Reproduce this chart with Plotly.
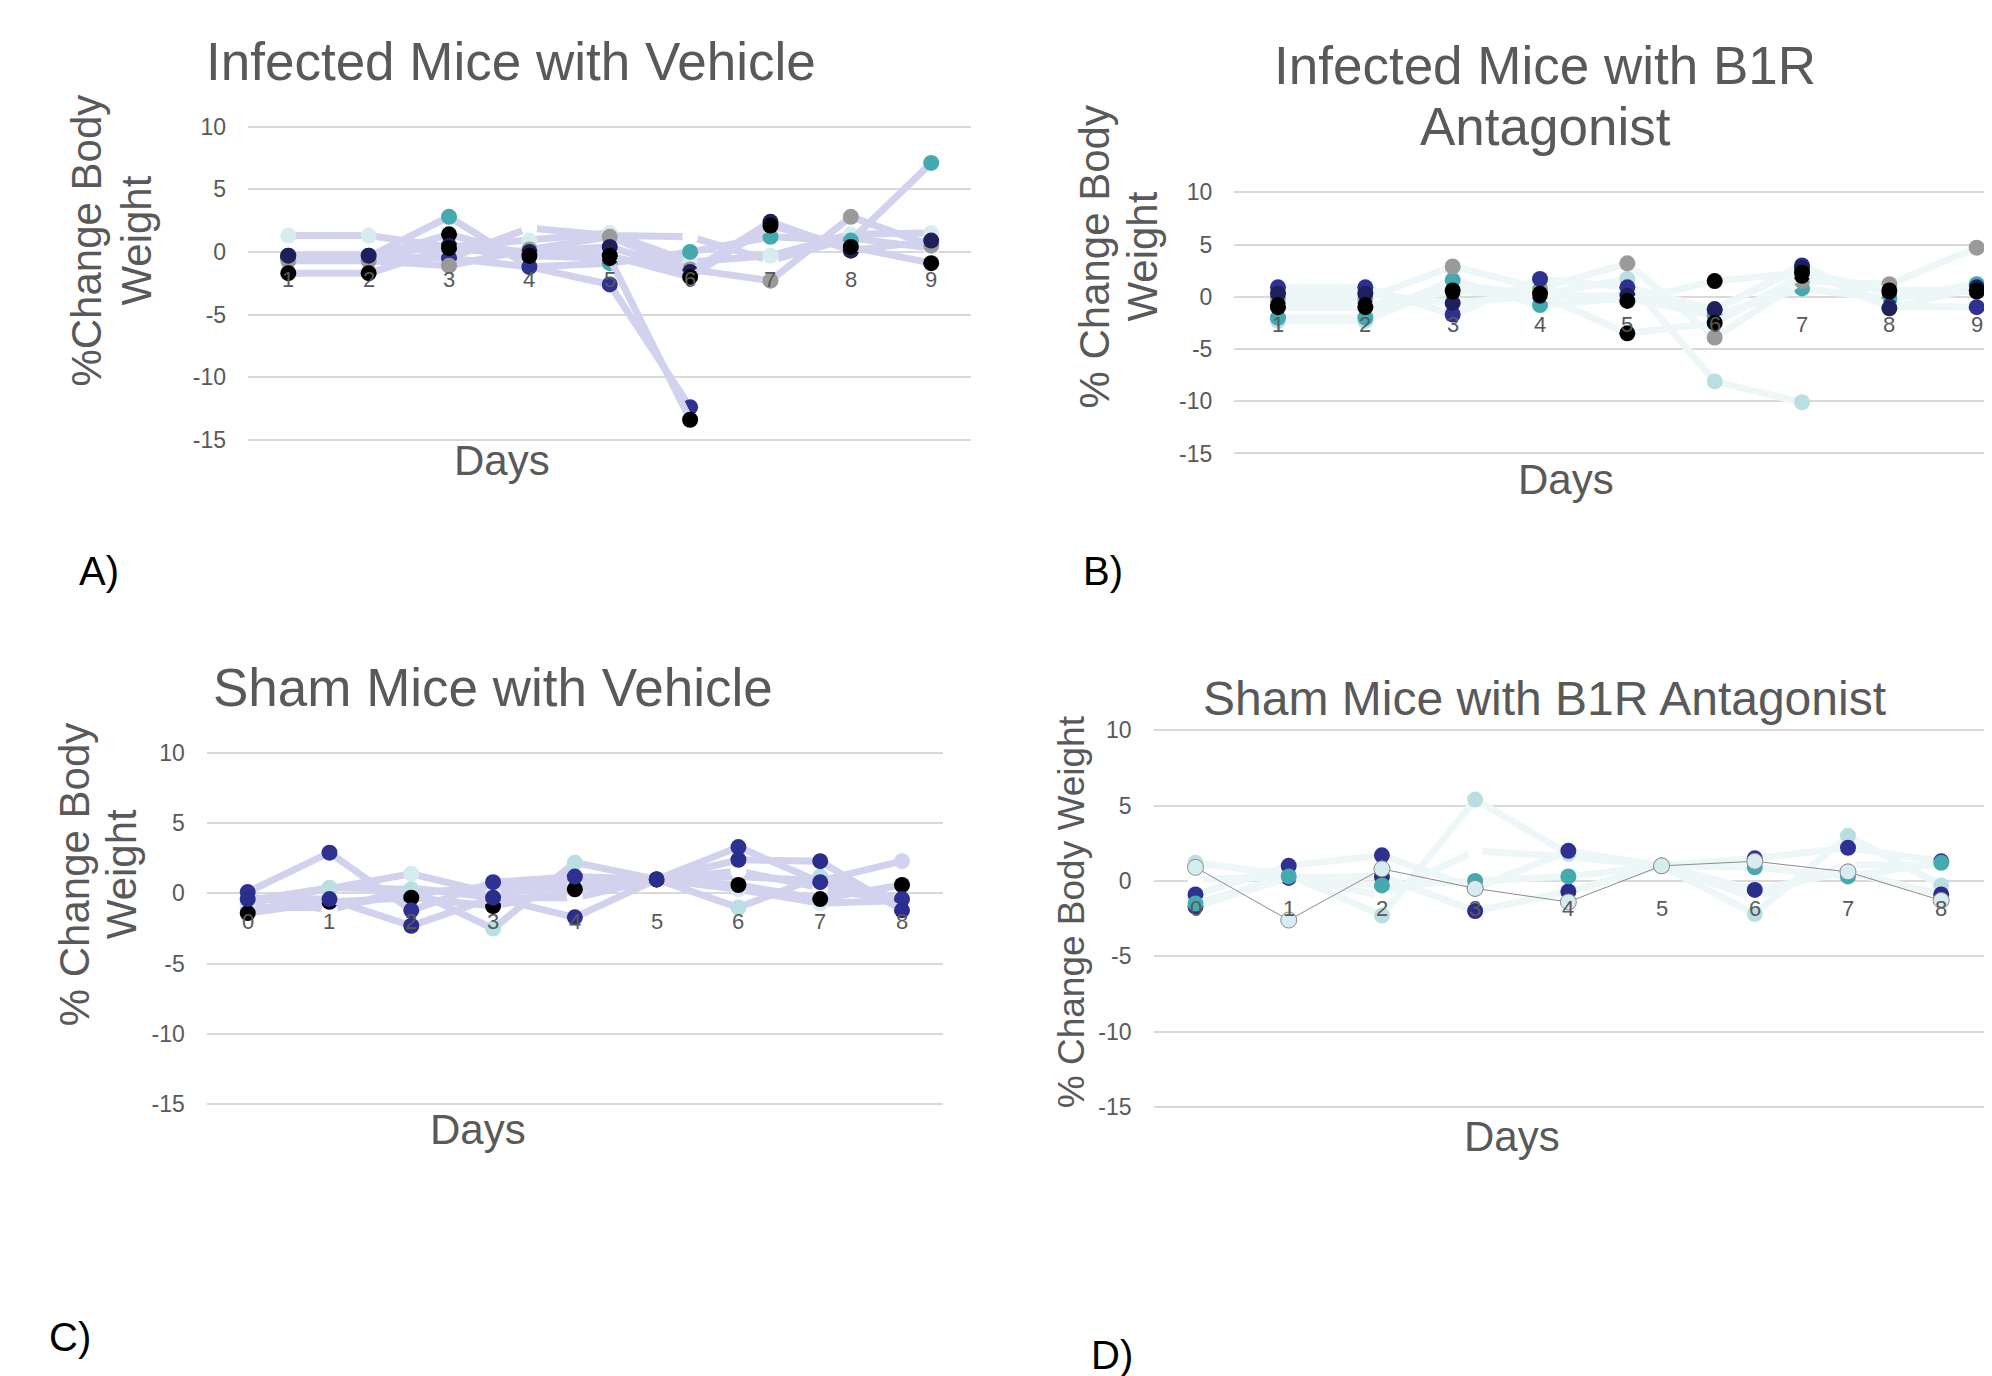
import plotly.graph_objects as go

OFFX = 8                 # page margin left of the plot div
Y_SCALE, Y_SHIFT = 0.9875, 15.3   # measured vertical page mapping of the rendered div
W, H = 1976, 1380

# ---------------- data ----------------
y_ticks = [-15, -10, -5, 0, 5, 10]

# Panel A: Infected Mice with Vehicle
days_A = [1, 2, 3, 4, 5, 6, 7, 8, 9]
A_white = [None, None, -0.5, 1.9, 1.3, 1.2, -0.7, 1.1, 0.3]
A_pale = [1.3, 1.3, 0.4, 0.9, 1.5, -0.8, -0.3, 1.4, 1.5]
A_teal = [-0.4, -0.4, 2.8, -1.2, -0.9, 0.0, 1.2, 0.9, 7.1]
A_navy = [-0.3, -0.3, -0.5, -1.2, -2.6, -12.4, None, None, None]
A_black1 = [-0.5, -0.5, 1.4, -0.3, -0.5, -13.4, None, None, None]
A_gray = [-0.7, -0.7, -1.1, 0.2, 1.2, -1.4, -2.3, 2.8, 0.5]
A_dnavy = [-0.3, -0.3, 0.5, 0.0, 0.4, -1.6, 2.4, 0.1, 0.9]
A_black2 = [-1.7, -1.7, 0.3, -0.3, -0.3, -2.0, 2.1, 0.4, -0.9]

# Panel B: Infected Mice with B1R Antagonist
days_B = [1, 2, 3, 4, 5, 6, 7, 8, 9]
B_light = [-2.3, -2.3, 1.2, 0.2, 1.7, -8.1, -10.1, None, None]
B_teal = [-2.0, -2.0, 1.6, -0.8, -0.1, -1.8, 0.8, -0.2, 1.2]
B_gray = [-0.2, -0.2, 2.9, 0.8, 3.2, -3.9, 1.5, 1.2, 4.7]
B_navy = [0.9, 0.9, -1.7, 1.7, 0.9, -1.2, 3.0, -0.9, -1.0]
B_dnavy = [0.3, 0.3, -0.6, 0.1, 0.1, -1.2, 2.8, -1.1, 0.9]
B_black1 = [-0.8, -0.8, 0.5, 0.2, -3.5, -2.5, 2.0, 0.5, 0.5]
B_black2 = [-1.0, -1.0, 0.6, 0.3, -0.4, 1.5, 2.3, 0.6, 0.6]

# Panel C: Sham Mice with Vehicle
days_C = [0, 1, 2, 3, 4, 5, 6, 7, 8]
C_lav = [-1.0, -1.0, 0.0, 0.5, 0.8, 1.0, 1.2, 0.9, 2.3]
C_white = [-0.2, -1.2, 0.4, -0.3, -0.3, 1.0, 1.6, 0.4, -0.6]
C_pale = [-0.7, 0.4, 1.4, 0.0, 0.6, 1.0, 0.3, -0.7, -0.5]
C_light = [-0.5, 0.4, 0.3, -2.5, 2.2, 1.0, -1.0, 1.2, -0.4]
C_black = [-1.4, -0.6, -0.3, -0.9, 0.3, 1.0, 0.6, -0.4, 0.6]
C_navy1 = [0.1, 2.9, -1.2, 0.8, 1.2, 1.0, 3.3, 0.8, -0.4]
C_navy2 = [-0.4, -0.4, -2.3, -0.3, -1.7, 1.0, 2.4, 2.3, -1.2]

# Panel D: Sham Mice with B1R Antagonist
days_D = [0, 1, 2, 3, 4, 5, 6, 7, 8]
D_white = [0.1, 0.3, -1.0, 2.0, 1.6, 1.0, -1.1, 1.1, 1.0]
D_light = [1.2, 0.4, -2.3, 5.4, 1.8, 1.0, -2.2, 3.0, -0.3]
D_navy1 = [-0.9, 1.0, 1.7, -0.5, 2.0, 1.0, 1.5, 2.2, 1.3]
D_navy2 = [-1.7, 0.2, 0.3, -2.0, -0.7, 1.0, -0.6, 0.6, -0.9]
D_teal = [-1.5, 0.3, -0.3, 0.0, 0.3, 1.0, 0.9, 0.3, 1.2]
D_thin = [0.9, -2.6, 0.8, -0.5, -1.4, 1.0, 1.3, 0.6, -1.3]

# ---------------- styles ----------------
FONT = "Arial, Liberation Sans, sans-serif"
GRAY_TXT = "#595959"
GRID = "#d9d9d9"
LAV = "#d2d2ee"
ICE = "#eef7f7"
C_PALE = "#d7ecee"
C_LIGHT = "#b9dfe2"
C_TEAL = "#45a9b0"
C_NAVY = "#2e3192"
C_DNAVY = "#1f1f5c"
C_GRAY = "#9a9a9a"

panels = [
    dict(days=days_A, line=LAV, series=[
        (A_white, "#ffffff"), (A_pale, C_PALE), (A_teal, C_TEAL), (A_navy, C_NAVY),
        (A_black1, "#000000"), (A_gray, C_GRAY), (A_dnavy, C_DNAVY), (A_black2, "#000000")]),
    dict(days=days_B, line=ICE, series=[
        (B_light, C_LIGHT), (B_teal, C_TEAL), (B_gray, C_GRAY), (B_navy, C_NAVY),
        (B_dnavy, C_DNAVY), (B_black1, "#000000"), (B_black2, "#000000")]),
    dict(days=days_C, line=LAV, series=[
        (C_lav, LAV), (C_white, "#ffffff"), (C_pale, C_PALE), (C_light, C_LIGHT),
        (C_black, "#000000"), (C_navy1, C_NAVY), (C_navy2, "#2b2d8c")]),
    dict(days=days_D, line=ICE, series=[
        (D_white, "#ffffff"), (D_light, C_LIGHT), (D_navy1, C_NAVY), (D_navy2, "#2b2d8c"),
        (D_teal, C_TEAL)]),
]

# target-pixel calibration for each panel: (x1, px1, x2, px2), (y1, py1, y2, py2), x range
calib = [
    ((1, 288.3, 9, 931.2), (10, 125.0, -15, 438.3), (0.5, 9.5)),
    ((1, 1278.0, 9, 1976.7), (10, 190.7, -15, 452.0), (0.5, None)),
    ((0, 247.7, 8, 902.0), (10, 751.7, -15, 1103.0), (-0.5, 8.5)),
    ((0, 1195.5, 8, 1941.2), (10, 729.0, -15, 1105.7), (-0.45, None)),
]


def PX(px):
    return (px - OFFX) / W


def PY(py):
    return 1 - ((py - Y_SHIFT) / Y_SCALE) / H


fig = go.Figure()
layout = dict(width=W, height=H, margin=dict(l=0, r=0, t=0, b=0),
              paper_bgcolor="white", plot_bgcolor="white", showlegend=False,
              font=dict(family=FONT, color=GRAY_TXT))
annotations = []

YLO, YHI = -15.4, 10.4
for i, (p, (cx, cy, xr)) in enumerate(zip(panels, calib)):
    n = "" if i == 0 else str(i + 1)
    xa, ya = "x" + n, "y" + n
    x1, px1, x2, px2 = cx
    kx = (px2 - px1) / (x2 - x1)
    xlo = xr[0]
    xhi = xr[1] if xr[1] is not None else x2 + (OFFX + W - 0.5 - px2) / kx
    dx = [PX(px1 + (xlo - x1) * kx), min(1.0, PX(px1 + (xhi - x1) * kx))]
    y1, py1, y2, py2 = cy
    ky = (py2 - py1) / (y2 - y1)
    dy = [PY(py1 + (YLO - y1) * ky), PY(py1 + (YHI - y1) * ky)]

    layout["xaxis" + n] = dict(domain=dx, range=[xlo, xhi], anchor=ya, showgrid=False,
                               zeroline=False, showticklabels=False, showline=False,
                               fixedrange=True)
    layout["yaxis" + n] = dict(domain=dy, range=[YLO, YHI], anchor=xa, showgrid=True,
                               gridcolor=GRID, gridwidth=2, zeroline=False,
                               tickvals=y_ticks, ticktext=[str(v) for v in y_ticks],
                               tickfont=dict(size=23, color=GRAY_TXT, family=FONT),
                               ticks="", showline=False, ticklabelstandoff=21,
                               fixedrange=True)

    for vals, col in p["series"]:
        fig.add_trace(go.Scatter(x=p["days"], y=vals, xaxis=xa, yaxis=ya,
                                 mode="lines+markers", connectgaps=False,
                                 line=dict(color=p["line"], width=7),
                                 marker=dict(color=col, size=16, line=dict(width=0)),
                                 cliponaxis=False, hoverinfo="skip"))
    if i == 3:
        fig.add_trace(go.Scatter(x=days_D, y=D_thin, xaxis=xa, yaxis=ya,
                                 mode="lines+markers",
                                 line=dict(color="#8c8c8c", width=1),
                                 marker=dict(color="#d6ecee", size=16,
                                             line=dict(width=1, color="#8c8c8c")),
                                 cliponaxis=False, hoverinfo="skip"))
    # category labels sitting under the zero line
    for d in p["days"]:
        annotations.append(dict(x=d, y=0, xref=xa, yref=ya, text=str(d), showarrow=False,
                                yanchor="middle", xanchor="center", yshift=-28,
                                font=dict(size=22, color=GRAY_TXT, family=FONT)))


def ann(text, px, py, size, color=GRAY_TXT, angle=0, xanchor="center"):
    annotations.append(dict(text=text, x=PX(px), y=PY(py), xref="paper", yref="paper",
                            showarrow=False, xanchor=xanchor, yanchor="middle",
                            textangle=angle, font=dict(size=size, color=color, family=FONT)))


# titles
ann("Infected Mice with Vehicle", 511, 59.5, 53)
ann("Infected Mice with B1R", 1545, 63.5, 53)
ann("Antagonist", 1545, 124.5, 53)
ann("Sham Mice with Vehicle", 493, 686.5, 53)
ann("Sham Mice with B1R Antagonist", 1544, 697, 48)

# y titles
ann("%Change Body", 87, 239, 42, angle=-90)
ann("Weight", 137, 239, 42, angle=-90)
ann("% Change Body", 1095, 255, 42, angle=-90)
ann("Weight", 1143, 255, 42, angle=-90)
ann("% Change Body", 74, 873, 42, angle=-90)
ann("Weight", 121, 873, 42, angle=-90)
ann("% Change Body Weight", 1071, 911, 37, angle=-90)

# x titles
ann("Days", 502, 459, 42)
ann("Days", 1566, 478, 42)
ann("Days", 478, 1128, 42)
ann("Days", 1512, 1135, 42)

# panel letters
ann("A)", 99, 570, 40, color="#000000")
ann("B)", 1103, 570, 40, color="#000000")
ann("C)", 70, 1336, 40, color="#000000")
ann("D)", 1112, 1354, 40, color="#000000")

layout["annotations"] = annotations
fig.update_layout(**layout)
fig.write_html("out.html", config={"displayModeBar": False})
